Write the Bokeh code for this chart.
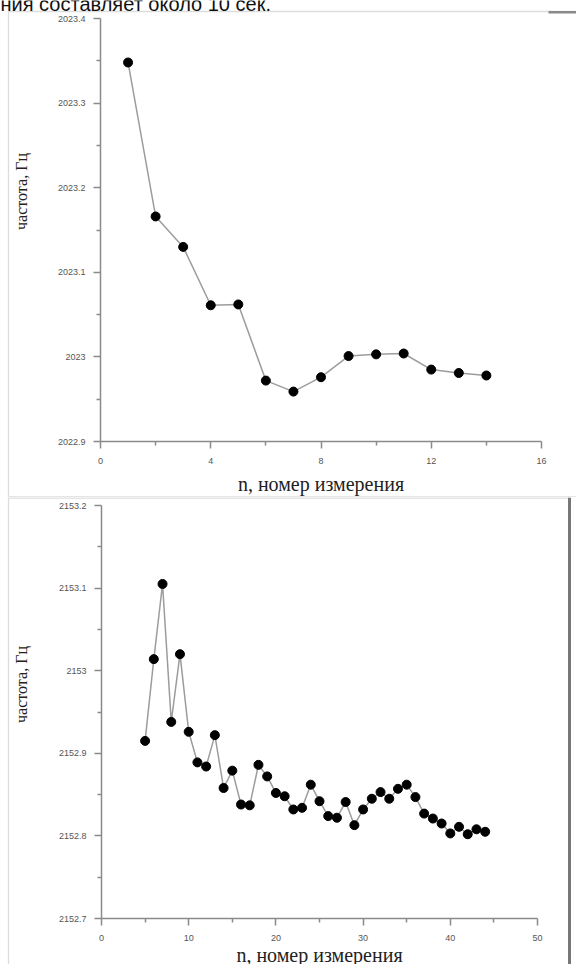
import math
from bokeh.plotting import figure
from bokeh.layouts import column
from bokeh.models import (Range1d, FixedTicker, NumeralTickFormatter, BoxAnnotation,
                          Label, LinearAxis)
from bokeh.embed import file_html
from bokeh.resources import INLINE

# ---- data: chart 1 ----
n1 = list(range(1, 15))
f1 = [2023.348, 2023.166, 2023.130, 2023.061, 2023.062, 2022.972, 2022.959,
      2022.976, 2023.001, 2023.003, 2023.004, 2022.985, 2022.981, 2022.978]
x1_major = [0, 4, 8, 12, 16]
x1_minor = [2, 6, 10, 14]
y1_major = [2022.9, 2023.0, 2023.1, 2023.2, 2023.3, 2023.4]
y1_minor = [2022.95, 2023.05, 2023.15, 2023.25, 2023.35]

# ---- data: chart 2 ----
n2 = list(range(5, 45))
f2 = [2152.915, 2153.014, 2153.105, 2152.938, 2153.020, 2152.926, 2152.889,
      2152.884, 2152.922, 2152.858, 2152.879, 2152.838, 2152.837, 2152.886,
      2152.872, 2152.852, 2152.848, 2152.832, 2152.834, 2152.862, 2152.842,
      2152.824, 2152.822, 2152.841, 2152.813, 2152.832, 2152.845, 2152.853,
      2152.845, 2152.857, 2152.862, 2152.847, 2152.827, 2152.821, 2152.815,
      2152.803, 2152.811, 2152.802, 2152.808, 2152.805]
x2_major = [0, 10, 20, 30, 40, 50]
x2_minor = [5, 15, 25, 35, 45]
y2_major = [2152.7, 2152.8, 2152.9, 2153.0, 2153.1, 2153.2]
y2_minor = [2152.75, 2152.85, 2152.95, 2153.05, 2153.15]

x_title = "n, номер измерения"
y_title = "частота, Гц"
top_text = "ния составляет около 10 сек."

AXIS = "#8a8a8a"
LINE = "#9c9c9c"
PANEL = "#8f8f8f"
W = 576


def ranges(xlo, xhi, ylo, yhi, px_left, px_right, px_top, px_bottom, h):
    """Extend data ranges so the axes land at the given canvas pixels
    while the plot frame fills the whole canvas."""
    sx = (px_right - px_left) / (xhi - xlo)
    sy = (px_bottom - px_top) / (yhi - ylo)
    xr = Range1d(xlo - px_left / sx, xhi + (W - px_right) / sx)
    yr = Range1d(ylo - (h - px_bottom) / sy, yhi + px_top / sy)
    return xr, yr


def make(h, xlo, xhi, ylo, yhi, px, xmaj, xmin, ymaj, ymin, xs, ys, title_standoff):
    xr, yr = ranges(xlo, xhi, ylo, yhi, *px, h)
    p = figure(width=W, height=h, output_backend="svg", toolbar_location=None,
               x_range=xr, y_range=yr, min_border=0,
               x_axis_location=None, y_axis_location=None)
    xa = LinearAxis(fixed_location=ylo, bounds=(xlo, xhi),
                    ticker=FixedTicker(ticks=xmaj, minor_ticks=xmin))
    ya = LinearAxis(fixed_location=xlo, bounds=(ylo, yhi),
                    ticker=FixedTicker(ticks=ymaj, minor_ticks=ymin),
                    formatter=NumeralTickFormatter(format="0.[0]"))
    for ax in (xa, ya):
        ax.axis_line_color = AXIS
        ax.axis_line_width = 1.5
        ax.major_tick_line_color = AXIS
        ax.major_tick_line_width = 1.5
        ax.minor_tick_line_color = AXIS
        ax.minor_tick_line_width = 1.5
        ax.major_tick_in = 0
        ax.major_tick_out = 7
        ax.minor_tick_in = 0
        ax.minor_tick_out = 4
        ax.major_label_text_font = "Liberation Sans"
        ax.major_label_text_font_size = "9px"
        ax.major_label_text_color = "#555555"
    xa.major_label_standoff = 9
    ya.major_label_standoff = 8
    xa.axis_label = x_title
    xa.axis_label_text_font = "Liberation Serif"
    xa.axis_label_text_font_style = "normal"
    xa.axis_label_text_font_size = "20px"
    xa.axis_label_text_color = "#222222"
    xa.axis_label_standoff = title_standoff
    p.add_layout(xa, "below")
    p.add_layout(ya, "left")
    p.grid.visible = False
    p.outline_line_color = None
    p.line(xs, ys, line_color=LINE, line_width=1.5)
    p.scatter(xs, ys, size=9, fill_color="black", line_color="black")
    return p


def box(p, left, right, top, bottom, **kw):
    p.add_layout(BoxAnnotation(left=left, right=right, top=top, bottom=bottom,
                               left_units="screen", right_units="screen",
                               top_units="screen", bottom_units="screen", **kw))


def ytitle(p, x, y):
    p.add_layout(Label(x=x, y=y, x_units="screen", y_units="screen", text=y_title,
                       angle=math.pi / 2, text_align="center",
                       text_baseline="middle", text_font="Liberation Serif",
                       text_font_size="16px", text_color="#222222"))


# ---- top figure (canvas 576 x 497) ----
H1 = 497
p1 = make(H1, 0, 16, 2022.9, 2023.4, (100, 541, 18, 441),
          x1_major, x1_minor, y1_major, y1_minor, n1, f1, 6)
box(p1, 8, 620, H1 - 11, 0.5, fill_color=None, line_color=PANEL, line_width=1.3)
box(p1, 548, 580, H1 - 10.5, H1 - 13, fill_color="#8a8a8a", fill_alpha=1.0,
    line_color=None)
# the last line of the preceding page text, partly cut off at the top edge
p1.add_layout(Label(x=0, y=H1 - 3, x_units="screen", y_units="screen",
                    text=top_text, text_font="Liberation Sans",
                    text_font_size="20px", text_color="#111111",
                    text_baseline="alphabetic"))
ytitle(p1, 21, H1 - 191)

# ---- bottom figure (canvas 576 x 467) ----
H2 = 467
p2 = make(H2, 0, 50, 2152.7, 2153.2, (101, 537, 8, 421),
          x2_major, x2_minor, y2_major, y2_minor, n2, f2, 0)
box(p2, 8, 569, H2 - 0.5, -20, fill_color=None, line_color=PANEL, line_width=1.3)
box(p2, 567.5, 570.5, H2, -20, fill_color="#777777", fill_alpha=1.0,
    line_color=None)
ytitle(p2, 21, H2 - 187)

layout = column(p1, p2, spacing=0)
open("out.html", "w").write(file_html(layout, INLINE))
